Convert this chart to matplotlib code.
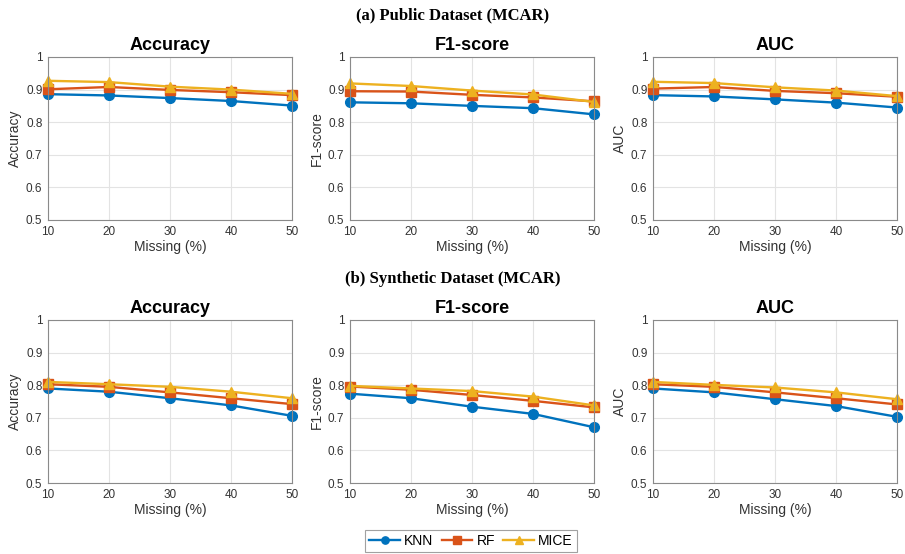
import numpy as np
import matplotlib
matplotlib.use('Agg')
import matplotlib.pyplot as plt

plt.rcParams['font.family'] = ['Liberation Sans', 'DejaVu Sans']

# Data
missing = [10, 20, 30, 40, 50]
methods = ['KNN', 'RF', 'MICE']
metrics = ['Accuracy', 'F1-score', 'AUC']
sections = ['(a) Public Dataset (MCAR)', '(b) Synthetic Dataset (MCAR)']

pub_acc_knn = [0.886, 0.882, 0.874, 0.865, 0.851]
pub_acc_rf = [0.901, 0.908, 0.899, 0.892, 0.883]
pub_acc_mice = [0.927, 0.923, 0.909, 0.900, 0.887]

pub_f1_knn = [0.861, 0.858, 0.850, 0.843, 0.824]
pub_f1_rf = [0.895, 0.894, 0.884, 0.876, 0.864]
pub_f1_mice = [0.919, 0.911, 0.897, 0.885, 0.862]

pub_auc_knn = [0.883, 0.879, 0.870, 0.860, 0.845]
pub_auc_rf = [0.903, 0.908, 0.896, 0.889, 0.878]
pub_auc_mice = [0.924, 0.920, 0.907, 0.897, 0.880]

syn_acc_knn = [0.790, 0.780, 0.760, 0.738, 0.706]
syn_acc_rf = [0.803, 0.795, 0.778, 0.760, 0.742]
syn_acc_mice = [0.810, 0.803, 0.795, 0.780, 0.760]

syn_f1_knn = [0.774, 0.760, 0.734, 0.712, 0.671]
syn_f1_rf = [0.796, 0.786, 0.770, 0.752, 0.732]
syn_f1_mice = [0.798, 0.790, 0.782, 0.765, 0.738]

syn_auc_knn = [0.790, 0.778, 0.757, 0.736, 0.703]
syn_auc_rf = [0.803, 0.795, 0.778, 0.760, 0.741]
syn_auc_mice = [0.810, 0.801, 0.793, 0.778, 0.757]

panels = [
    [(pub_acc_knn, pub_acc_rf, pub_acc_mice),
     (pub_f1_knn, pub_f1_rf, pub_f1_mice),
     (pub_auc_knn, pub_auc_rf, pub_auc_mice)],
    [(syn_acc_knn, syn_acc_rf, syn_acc_mice),
     (syn_f1_knn, syn_f1_rf, syn_f1_mice),
     (syn_auc_knn, syn_auc_rf, syn_auc_mice)],
]

colors = ['#0072BD', '#D95319', '#EDB120']
markers = ['o', 's', '^']
W, H = 905, 554

fig = plt.figure(figsize=(W / 100, H / 100), dpi=100)

lefts = [48, 350, 653]
tops = [57, 320]
aw, ah = 244, 163

handles = []
for r in range(2):
    for c in range(3):
        ax = fig.add_axes([lefts[c] / W, 1 - (tops[r] + ah) / H, aw / W, ah / H])
        for k in range(3):
            h, = ax.plot(missing, panels[r][c][k], color=colors[k], marker=markers[k],
                         markersize=7, linewidth=1.7, clip_on=False, label=methods[k])
            if r == 0 and c == 0:
                handles.append(h)
        ax.set_xlim(10, 50)
        ax.set_ylim(0.5, 1)
        ax.set_xticks(missing)
        ax.set_yticks([0.5, 0.6, 0.7, 0.8, 0.9, 1.0])
        ax.set_yticklabels(['0.5', '0.6', '0.7', '0.8', '0.9', '1'])
        ax.grid(True, color='#e3e3e3', linewidth=0.8)
        ax.set_axisbelow(True)
        for s in ax.spines.values():
            s.set_color('#8a8a8a')
            s.set_linewidth(0.8)
        ax.tick_params(labelsize=8.5, labelcolor='#333333', length=0, pad=4)
        ax.set_title(metrics[c], fontsize=13, fontweight='bold', pad=5)
        ax.set_ylabel(metrics[c], fontsize=10, color='#333333', labelpad=3)
        ax.set_xlabel('Missing (%)', fontsize=10, color='#333333', labelpad=2)

fig.text(0.5, 1 - 15 / H, sections[0], ha='center', va='center', fontsize=12,
         fontweight='bold', family=['Liberation Serif', 'DejaVu Serif'])
fig.text(0.5, 1 - 279 / H, sections[1], ha='center', va='center', fontsize=12,
         fontweight='bold', family=['Liberation Serif', 'DejaVu Serif'])

leg = fig.legend(handles=handles, loc='center', bbox_to_anchor=(471 / W, 1 - 541 / H),
                 ncol=3, fontsize=10, frameon=True, fancybox=False, edgecolor='#8a8a8a',
                 handlelength=2.2, columnspacing=0.6, handletextpad=0.3,
                 borderpad=0.3, borderaxespad=0, markerscale=0.75)
leg.get_frame().set_linewidth(0.8)

fig.savefig('out.png', dpi=100)
